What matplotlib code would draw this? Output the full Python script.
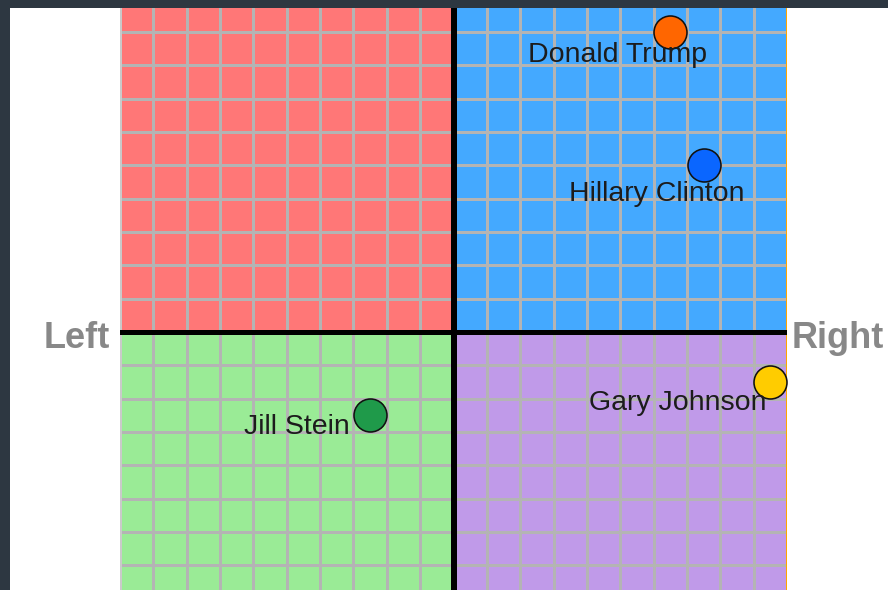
import matplotlib.pyplot as plt
from matplotlib.patches import Rectangle

# ── Data ──
names = ["Donald Trump", "Hillary Clinton", "Gary Johnson", "Jill Stein"]
econ = [6.5, 7.5, 9.5, -2.5]       # left (-) / right (+)
social = [9.0, 5.0, -1.5, -2.5]    # up (+) / down (-)
colors = ["#ff6600", "#0a66ff", "#ffcc00", "#1f9a4a"]
# label offset from the dot, in pixels (dx, dy down = positive)
label_off = [(-53, 30), (-47, 36), (-93, 28), (-73, 19)]

quadrants = [  # (x0, y0, colour)
    (-10, 0, "#ff7777"),
    (0, 0, "#44a9ff"),
    (-10, -10, "#9aeb96"),
    (0, -10, "#c09ae9"),
]

W, H, DPI = 888, 590, 100
fig = plt.figure(figsize=(W / DPI, H / DPI), dpi=DPI, facecolor="white")
plt.rcParams["font.family"] = ["Liberation Sans", "DejaVu Sans"]

# axes placed so that one grid unit = 33.35 px, centre at (453.5, 332)
unit = 33.35
left_px, top_px = 120, 332 - 10 * unit
ax = fig.add_axes([left_px / W, (H - (top_px + 20 * unit)) / H, 20 * unit / W, 20 * unit / H])
ax.set_xlim(-10, 10)
ax.set_ylim(-10, 10)
ax.axis("off")

for x0, y0, c in quadrants:
    ax.add_patch(Rectangle((x0, y0), 10, 10, facecolor=c, edgecolor="none", zorder=0))

px = 0.72  # points per pixel
for v in range(-10, 11):
    ax.axvline(v, color="#b4b4b4", lw=3 * px, zorder=1)
    ax.axhline(v, color="#b4b4b4", lw=3 * px, zorder=1)
ax.axvline(-10, color="#cacaca", lw=3 * px, zorder=1)
ax.axvline(10, color="#ffa500", lw=2 * px, zorder=2)
ax.axvline(0, color="black", lw=6 * px, zorder=3)
ax.axhline(0, color="black", lw=5 * px, zorder=3)

for n, x, y, c, (dx, dy) in zip(names, econ, social, colors, label_off):
    ax.plot(x, y, "o", ms=33 * px, mfc=c, mec="#111111", mew=1.6 * px, zorder=5, clip_on=False)
    ax.annotate(n, (x, y), xytext=(dx * px, -dy * px), textcoords="offset points",
                ha="center", va="baseline", fontsize=20.5, color="#1c1c1c", zorder=6)

ax.annotate("Left", (-10, 0), xytext=(-10 * px, -16 * px), textcoords="offset points",
            ha="right", va="baseline", fontsize=26, fontweight="bold", color="#888888")
ax.annotate("Right", (10, 0), xytext=(5 * px, -16 * px), textcoords="offset points",
            ha="left", va="baseline", fontsize=26, fontweight="bold", color="#888888")

# dark frame strips (top and left)
dark = "#2d3741"
fig.add_artist(Rectangle((0, 1 - 8 / H), 1, 8 / H, transform=fig.transFigure,
                         facecolor=dark, edgecolor="none", zorder=10))
fig.add_artist(Rectangle((0, 0), 10 / W, 1, transform=fig.transFigure,
                         facecolor=dark, edgecolor="none", zorder=10))

fig.savefig("out.png", dpi=DPI)
